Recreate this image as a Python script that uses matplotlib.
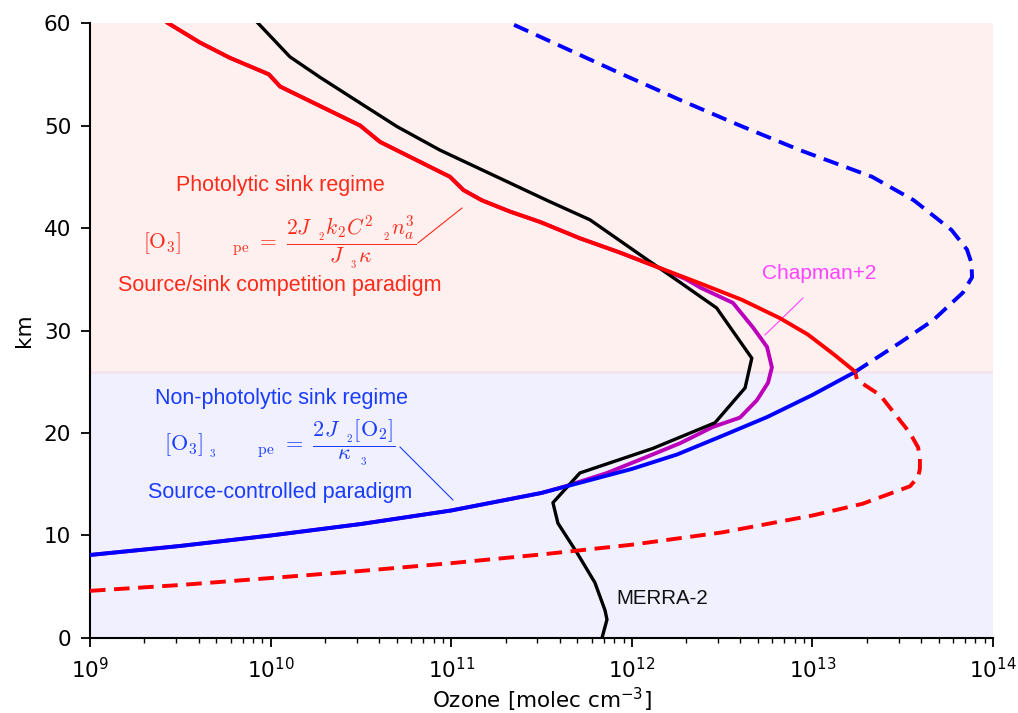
import matplotlib
matplotlib.use("Agg")
import matplotlib.pyplot as plt

# ---------------- data (altitude km, ozone molec cm^-3) ----------------
merra_km = [0, 1.8, 2.7, 5.4, 8.3, 11.2, 13.2, 16.1, 18.5, 21.0, 24.4, 27.3, 32.2,
            34.7, 37.4, 40.8, 42.7, 47.6, 49.9, 52.2, 54.7, 56.7, 60]
merra_o3 = [6.84e11, 7.29e11, 7.11e11, 6.25e11, 4.98e11, 3.90e11, 3.66e11, 5.16e11,
            1.31e12, 2.89e12, 4.24e12, 4.62e12, 2.95e12, 1.85e12, 1.11e12, 5.87e11,
            3.39e11, 8.67e10, 5.01e10, 3.13e10, 1.88e10, 1.28e10, 8.51e9]

# photolytic-sink steady state (solid above 26 km)
photo_km = [26.0, 27.6, 29.6, 31.2, 33.0, 34.6, 36.1, 37.6, 39.0, 40.6, 41.6, 42.7,
            43.7, 45.0, 48.4, 50.0, 53.8, 55.0, 56.6, 58.1, 60]
photo_o3 = [1.72e13, 1.33e13, 9.46e12, 6.62e12, 4.07e12, 2.39e12, 1.43e12, 8.61e11,
            5.16e11, 3.10e11, 2.12e11, 1.48e11, 1.17e11, 9.84e10, 4.04e10, 3.13e10,
            1.13e10, 9.77e9, 5.96e9, 4.06e9, 2.70e9]
# photolytic-sink steady state (dashed below 26 km)
photo_low_km = [4.6, 5.17, 5.85, 6.54, 7.3, 8.15, 9.1, 10.3, 11.95, 13.1,
                14.8, 15.7, 16.5, 17.6, 18.6, 20.0, 23.7, 25.17, 26.0]
photo_low_o3 = [1.0e9, 3.16e9, 1.0e10, 3.16e10, 1.0e11, 3.16e11, 1.0e12, 3.16e12,
                1.0e13, 1.9e13, 3.47e13, 3.85e13, 3.94e13, 3.94e13,
                3.85e13, 3.47e13, 2.37e13, 1.77e13, 1.72e13]

# non-photolytic-sink steady state (solid below 26 km)
nonphoto_km = [8.1, 8.98, 10.0, 11.12, 12.44, 14.15, 16.49, 17.9, 19.71, 21.56, 23.71, 25.95]
nonphoto_o3 = [1.0e9, 3.16e9, 1.0e10, 3.16e10, 1.0e11, 3.16e11, 1.0e12, 1.78e12,
               3.16e12, 5.62e12, 1.0e13, 1.72e13]
# non-photolytic-sink steady state (dashed above 26 km)
nonphoto_up_km = [25.95, 28.8, 31.0, 33.7, 35.2, 36.6, 37.9, 39.8, 42.7, 45.0, 47.6,
                  50.0, 52.5, 55.1, 60]
nonphoto_up_o3 = [1.72e13, 3.05e13, 4.66e13, 6.82e13, 7.66e13, 7.6e13, 7.18e13, 5.9e13,
                  3.65e13, 2.14e13, 8.53e12, 3.97e12, 1.85e12, 8.61e11, 2.12e11]

# Chapman+2 full solution
chap_km = [8.1, 8.98, 10.0, 11.12, 12.44, 14.15, 14.85, 16.1, 17.4, 19.0, 20.6, 21.5,
           23.2, 24.9, 26.4, 28.4, 30.3, 32.7, 34.2, 35.0, 36.1, 37.6, 39.0, 40.6,
           41.6, 42.7, 43.7, 45.0, 48.4, 50.0, 53.8, 55.0, 56.6, 58.1, 60]
chap_o3 = [1.0e9, 3.16e9, 1.0e10, 3.16e10, 1.0e11, 3.16e11, 4.38e11, 7.29e11,
           1.11e12, 1.85e12, 2.82e12, 3.97e12, 4.93e12, 5.68e12, 5.97e12, 5.61e12,
           4.69e12, 3.63e12, 2.39e12, 2.0e12, 1.43e12, 8.61e11, 5.16e11, 3.10e11,
           2.12e11, 1.48e11, 1.17e11, 9.84e10, 4.04e10, 3.13e10, 1.13e10, 9.77e9,
           5.96e9, 4.06e9, 2.70e9]

regime_boundary_km = 26
xlim = (1e9, 1e14)
ylim = (0, 60)

# ---------------- figure ----------------
fig = plt.figure(figsize=(10.18, 7.13), dpi=100)
ax = fig.add_axes([0.0884, 0.1052, 0.8870, 0.8625])
ax.set_xscale("log")
ax.set_xlim(*xlim)
ax.set_ylim(*ylim)

ax.axhspan(regime_boundary_km, ylim[1], color="#fff0f0", lw=0, zorder=0)
ax.axhspan(ylim[0], regime_boundary_km, color="#f0f0ff", lw=0, zorder=0)
ax.axhline(regime_boundary_km, color="#f3e4ee", lw=2, zorder=0.5)

dash = (0, (4, 2.2))
ax.plot(chap_o3, chap_km, color="#bb00bb", lw=2.8, zorder=2)
ax.plot(merra_o3, merra_km, color="black", lw=2.4, zorder=3)
ax.plot(photo_low_o3, photo_low_km, color="red", lw=2.8, ls=dash, zorder=3)
ax.plot(nonphoto_up_o3, nonphoto_up_km, color="blue", lw=2.8, ls=dash, zorder=3)
ax.plot(nonphoto_o3, nonphoto_km, color="blue", lw=2.8, zorder=4)
ax.plot(photo_o3, photo_km, color="red", lw=2.8, zorder=4)

for s in ("top", "right"):
    ax.spines[s].set_visible(False)
for s in ("left", "bottom"):
    ax.spines[s].set_linewidth(1.5)
ax.set_yticks([0, 10, 20, 30, 40, 50, 60])
ax.tick_params(which="major", length=6.5, width=1.3, labelsize=15.5, pad=7)
ax.tick_params(which="minor", length=3.6, width=1.0)
ax.set_ylabel("km", fontsize=15.5, labelpad=7)
ax.set_xlabel("Ozone [molec cm$^{-3}$]", fontsize=15.5, labelpad=3)

red_txt = "#ff2a1a"
blue_txt = "#1a3cff"
tf = "Liberation Sans"
T = ax.transAxes

ax.text(0.2104, 0.7366, "Photolytic sink regime", color=red_txt, fontsize=15.5,
        family=tf, ha="center", va="center", transform=T)
ax.text(0.2104, 0.6439,
        r"$[\mathrm{O}_3]\qquad\ \ {}_{\mathrm{pe}}\ =\ \dfrac{2J_{\ \ {}_2}k_2C^2{}_{\ \ {}_2}n_a^3}{J_{\ \ {}_3}\kappa}$",
        color=red_txt, fontsize=15.5, math_fontfamily="cm", ha="center", va="center",
        transform=T)
ax.text(0.2104, 0.574, "Source/sink competition paradigm", color=red_txt, fontsize=15.5,
        family=tf, ha="center", va="center", transform=T)
ax.plot([0.3632, 0.4120], [0.6423, 0.6992], color=red_txt, lw=0.8, transform=T)

ax.text(0.2126, 0.390, "Non-photolytic sink regime", color=blue_txt, fontsize=15.5,
        family=tf, ha="center", va="center", transform=T)
ax.text(0.2104, 0.317,
        r"$[\mathrm{O}_3]_{\ {}_3}\qquad{}_{\mathrm{pe}}\ =\ \dfrac{2J_{\ \ {}_2}[\mathrm{O}_2]}{\kappa_{\ \ {}_3}}$",
        color=blue_txt, fontsize=16, math_fontfamily="cm", ha="center", va="center",
        transform=T)
ax.text(0.2104, 0.2374, "Source-controlled paradigm", color=blue_txt, fontsize=15.5,
        family=tf, ha="center", va="center", transform=T)
ax.plot([0.3433, 0.4020], [0.3106, 0.2244], color=blue_txt, lw=0.8, transform=T)

ax.text(0.808, 0.5935, "Chapman+2", color="#ff44ff", fontsize=15, family=tf,
        ha="center", va="center", transform=T)
ax.plot([0.7896, 0.7475], [0.5528, 0.4927], color="#ff44ff", lw=0.8, transform=T)

ax.text(0.5825, 0.065, "MERRA-2", color="#111111", fontsize=14.8, family=tf,
        ha="left", va="center", transform=T)

fig.savefig("out.png", dpi=100)
